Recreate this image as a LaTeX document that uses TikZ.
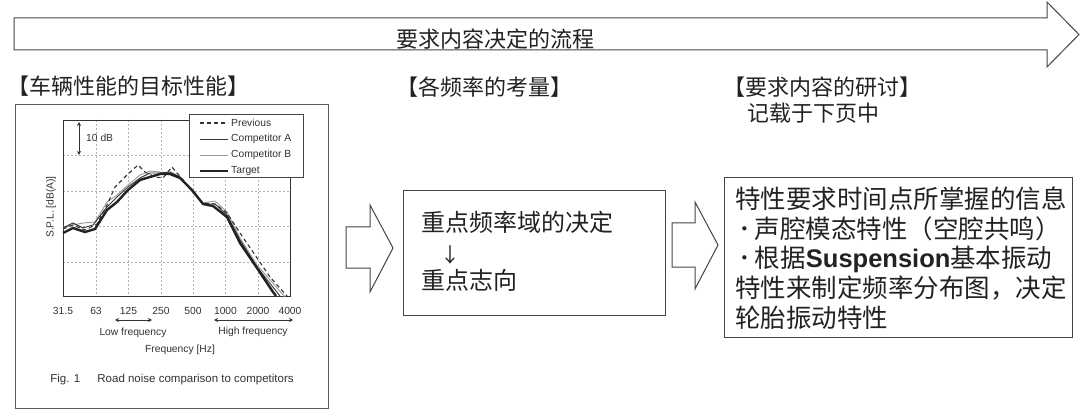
\documentclass[tikz,border=0pt]{standalone}
\usepackage{fontspec}
\setmainfont{Noto Sans CJK SC}
\newfontfamily\arialf{Liberation Sans}
\usetikzlibrary{arrows.meta}
\definecolor{ink}{HTML}{222222}
\definecolor{frame}{HTML}{444444}
\definecolor{chart}{HTML}{333333}
\definecolor{gridc}{HTML}{B0B0B0}
\definecolor{compb}{HTML}{9A9A9A}
\newcommand{\mybullet}{\hspace{3pt}･\hspace{4pt}}
\tikzset{
  blockarrow/.style={draw=frame, line width=1pt, fill=white, line join=miter},
  heading/.style={font=\fontsize{22}{26}\selectfont, anchor=west, inner sep=0pt, text=ink},
  boxnode/.style={draw=frame, line width=1pt, fill=white, inner sep=0pt},
  ctext/.style={font=\arialf\fontsize{10.3}{12}\selectfont, text=chart, inner sep=0pt},
  gridline/.style={draw=gridc, dash pattern=on 2pt off 2pt, line width=0.6pt},
  tgt/.style={draw=ink, line width=2.4pt, line join=round},
  compa/.style={draw=chart, line width=0.9pt, line join=round},
  compbl/.style={draw=compb, line width=0.9pt, line join=round},
  prev/.style={draw=chart, line width=1.1pt, dash pattern=on 4pt off 3pt},
  dim/.style={draw=chart, line width=0.9pt, {Stealth[length=4pt,width=4pt]}-{Stealth[length=4pt,width=4pt]}}
}
\begin{document}
\begin{tikzpicture}[x=1pt,y=-1pt]
\useasboundingbox (0,0) rectangle (1080,417);
\fill[white] (0,0) rectangle (1080,417);

% top flow arrow
\draw[blockarrow] (14,18) -- (1047,18) -- (1047,2) -- (1079,34.5) -- (1047,67) -- (1047,50) -- (14,50) -- cycle;
\node[font=\fontsize{22}{26}\selectfont, text=ink, inner sep=0pt] (flow) at (495,39) {要求内容决定的流程};

% headings
\node[heading] (h1) at (7,86) {【车辆性能的目标性能】};
\node[heading] (h2) at (396,87) {【各频率的考量】};
\node[heading] (h3) at (723,87) {【要求内容的研讨】};
\node[heading] (h3b) at (747,113) {记载于下页中};

% chart frame
\draw[draw=chart!80, line width=0.8pt] (15,104) rectangle (328,408);
% grid
\foreach \gx in {96,128.5,161,193,225.5,258} \draw[gridline] (\gx,120) -- (\gx,296);
\foreach \gy in {155.5,191,226.5,262} \draw[gridline] (63,\gy) -- (290,\gy);
\draw[draw=chart, line width=0.8pt] (63,120) rectangle (290,296);

% curves
\draw[compbl] plot coordinates {(63,227) (73,225) (83,223) (95,222) (107,202) (117,195) (128,185) (140,175) (150,171) (160,172) (170,173) (180,177) (192,192) (203,203) (215,201) (227,212) (240,238) (257,265) (285,297)};
\draw[prev] plot coordinates {(63,229) (73,225) (85,230) (97,224) (107,205) (115,187) (127,175) (138,165) (145,172) (155,177) (163,178) (172,167) (177,173) (192,190) (203,203) (215,204) (227,213) (240,233) (253,252) (270,277) (287,296)};
\draw[compa] plot coordinates {(63,228) (73,223) (83,228) (93,225) (107,207) (117,197) (128,187) (140,178) (150,173) (160,173) (170,172) (180,177) (192,190) (203,204) (215,204) (227,215) (240,240) (257,267) (280,296)};
\draw[tgt] plot coordinates {(63,233) (73,228) (85,232) (95,229) (107,210) (117,202) (128,190) (140,180) (150,177) (160,174) (170,174) (180,178) (192,190) (203,204) (213,206) (227,217) (240,243) (257,268) (273,292) (276,296)};

% 10 dB
\coordinate (d1) at (79,122);
\coordinate (d2) at (79,155);
\draw[dim] (d1) -- (d2);
\node[ctext, anchor=west] (tendb) at (86,138) {10 dB};

% legend
\draw[draw=frame, line width=0.8pt, fill=white] (189,114) rectangle (303,177);
\coordinate (l1a) at (200,123); \coordinate (l1b) at (228,123);
\coordinate (l2a) at (200,139); \coordinate (l2b) at (228,139);
\coordinate (l3a) at (200,155); \coordinate (l3b) at (228,155);
\coordinate (l4a) at (200,171); \coordinate (l4b) at (228,171);
\draw[prev] (l1a) -- (l1b);
\draw[compa] (l2a) -- (l2b);
\draw[compbl] (l3a) -- (l3b);
\draw[tgt] (l4a) -- (l4b);
\node[ctext, anchor=west] (lg1) at (231,123) {Previous};
\node[ctext, anchor=west] (lg2) at (231,139) {Competitor A};
\node[ctext, anchor=west] (lg3) at (231,155) {Competitor B};
\node[ctext, anchor=west] (lg4) at (231,171) {Target};

% axis labels
\node[ctext, rotate=90] (ylab) at (51,207) {S.P.L. [dB(A)]};
\foreach \tx/\tl in {63/31.5,96/63,128.5/125,161/250,193/500,225.5/1000,258/2000,290/4000}
  \node[ctext] at (\tx,311) {\tl};
\coordinate (lf1) at (115,320); \coordinate (lf2) at (152,320);
\coordinate (hf1) at (214,320); \coordinate (hf2) at (293,320);
\draw[dim] (lf1) -- (lf2);
\draw[dim] (hf1) -- (hf2);
\node[ctext] (lowf) at (133,333) {Low frequency};
\node[ctext] (highf) at (253,332) {High frequency};
\node[ctext] (freq) at (180,350) {Frequency [Hz]};
\node[ctext, font=\arialf\fontsize{11.5}{13}\selectfont] (cap) at (172,380) {Fig. 1\hspace{1.5em}Road noise comparison to competitors};

% middle arrow
\draw[blockarrow] (346,227) -- (370,227) -- (370,205) -- (393,248) -- (370,292) -- (370,268) -- (346,268) -- cycle;
% middle box
\node[boxnode, anchor=north west, minimum width=262, minimum height=125] (focus) at (403,190) {};
\node[heading, font=\fontsize{24}{28}\selectfont] (f1) at (421,222) {重点频率域的决定};
\node[heading, font=\fontsize{20}{24}\selectfont] (f2) at (440,255) {↓};
\node[heading, font=\fontsize{24}{28}\selectfont] (f3) at (421,280) {重点志向};

% right arrow
\draw[blockarrow] (672,223) -- (695,223) -- (695,202) -- (718,245) -- (695,289) -- (695,267) -- (672,267) -- cycle;
% right box
\node[boxnode, anchor=north west, minimum width=348, minimum height=160] (req) at (724,177) {};
\node[anchor=west, inner sep=0pt, text width=330, align=left, text=ink, font=\fontsize{25.5}{29.7}\selectfont] (reqtext) at (735,258)
{特性要求时间点所掌握的信息\\\mybullet 声腔模态特性（空腔共鸣）\\\mybullet 根据{\arialf\bfseries Suspension}基本振动\\特性来制定频率分布图，决定\\轮胎振动特性};
\end{tikzpicture}
\end{document}
